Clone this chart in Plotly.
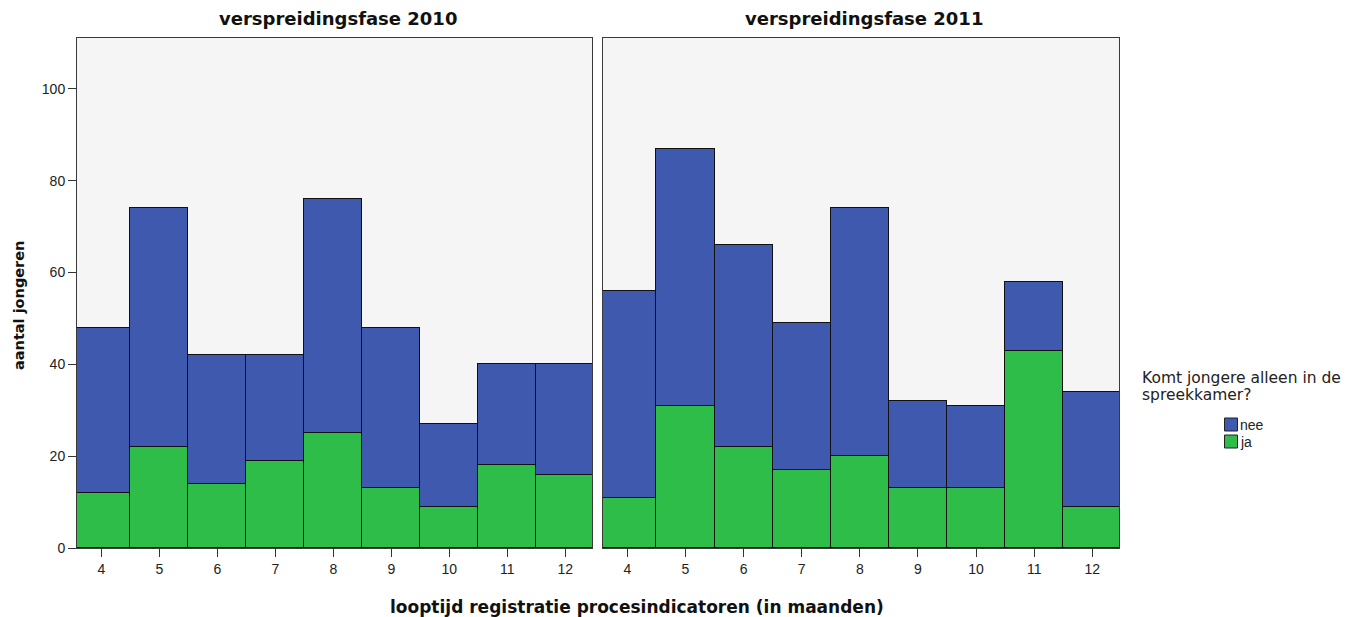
import plotly.graph_objects as go

months = [4, 5, 6, 7, 8, 9, 10, 11, 12]
panels = ["verspreidingsfase 2010", "verspreidingsfase 2011"]
ja_2010 = [12, 22, 14, 19, 25, 13, 9, 18, 16]
nee_2010 = [36, 52, 28, 23, 51, 35, 18, 22, 24]
ja_2011 = [11, 31, 22, 17, 20, 13, 13, 43, 9]
nee_2011 = [45, 56, 44, 32, 54, 19, 18, 15, 25]
y_ticks = [0, 20, 40, 60, 80, 100]
legend_title_lines = ["Komt jongere alleen in de", "spreekkamer?"]
series_names = ["nee", "ja"]

BLUE = "#3E59AE"
GREEN = "#2EBD49"
FONT = "Liberation Sans"
BFONT = "DejaVu Sans"
W, H = 1350, 617
HE = 609  # effective rendered height observed in the viewer


def py(p):
    return 1 - p / HE


fig = go.Figure()
for ja, nee, xa, ya in [(ja_2010, nee_2010, "x", "y"), (ja_2011, nee_2011, "x2", "y2")]:
    fig.add_trace(go.Bar(x=months, y=ja, name="ja", marker=dict(color=GREEN, line=dict(color="#111", width=1.2)),
                         width=1, xaxis=xa, yaxis=ya, showlegend=False))
    fig.add_trace(go.Bar(x=months, y=nee, name="nee", marker=dict(color=BLUE, line=dict(color="#111", width=1.2)),
                         width=1, xaxis=xa, yaxis=ya, showlegend=False))

ydom = [py(548), py(38)]
xrange_ = [3.58, 12.46]
axis_common = dict(showline=True, mirror=True, linecolor="#3a3a3a", linewidth=1, showgrid=False, zeroline=False,
                   ticklen=8, tickcolor="#333", tickfont=dict(family=FONT, size=14, color="#222"))

fig.update_layout(
    barmode="stack", bargap=0,
    width=W, height=H,
    margin=dict(l=0, r=0, t=0, b=0),
    paper_bgcolor="white", plot_bgcolor="#F5F5F5",
    showlegend=False,
    xaxis=dict(domain=[77 / W, 592 / W], range=xrange_, tickvals=months, anchor="y", ticks="outside", **axis_common),
    xaxis2=dict(domain=[603 / W, 1119 / W], range=xrange_, tickvals=months, anchor="y2", ticks="outside", **axis_common),
    yaxis=dict(domain=ydom, range=[0, 111.1], tickvals=y_ticks, anchor="x", ticks="outside", **axis_common),
    yaxis2=dict(domain=ydom, range=[0, 111.1], tickvals=y_ticks, showticklabels=False, anchor="x2", ticks="",
                **axis_common),
)

# Panel titles
for i, t in enumerate(panels):
    xc = (77 + 592) / 2 / W if i == 0 else (603 + 1119) / 2 / W
    fig.add_annotation(text=f"<b>{t}</b>", x=xc + 3 / W, y=py(19), xref="paper", yref="paper",
                       showarrow=False, font=dict(family=BFONT, size=18, color="#111"), xanchor="center", yanchor="middle")

# Axis titles
fig.add_annotation(text="<b>aantal jongeren</b>", x=19 / W, y=py(306), xref="paper", yref="paper",
                   showarrow=False, textangle=-90, font=dict(family=BFONT, size=14.5, color="#111"),
                   xanchor="center", yanchor="middle")
fig.add_annotation(text="<b>looptijd registratie procesindicatoren (in maanden)</b>", x=637 / W, y=py(607),
                   xref="paper", yref="paper", showarrow=False, font=dict(family=BFONT, size=17, color="#111"),
                   xanchor="center", yanchor="middle")

# Legend (manual)
for k, line in enumerate(legend_title_lines):
    fig.add_annotation(text=line, x=1140 / W, y=py(378 + 17 * k), xref="paper", yref="paper", showarrow=False,
                       align="left", xanchor="left", yanchor="middle", font=dict(family=BFONT, size=15.5, color="#222"))
for name, color, yc in [(series_names[0], BLUE, 424.5), (series_names[1], GREEN, 441.5)]:
    fig.add_shape(type="rect", xref="paper", yref="paper", x0=1224.5 / W, x1=1237.5 / W,
                  y0=py(yc + 6.5), y1=py(yc - 6.5), fillcolor=color, line=dict(color="#222", width=1))
    fig.add_annotation(text=name, x=1238 / W, y=py(yc + 0.5), xref="paper", yref="paper", showarrow=False,
                       xanchor="left", yanchor="middle", font=dict(family=FONT, size=14, color="#222"))

fig.write_html("out.html", config={"displayModeBar": False},
               post_script="document.body.style.margin='0';document.body.style.padding='0';")
